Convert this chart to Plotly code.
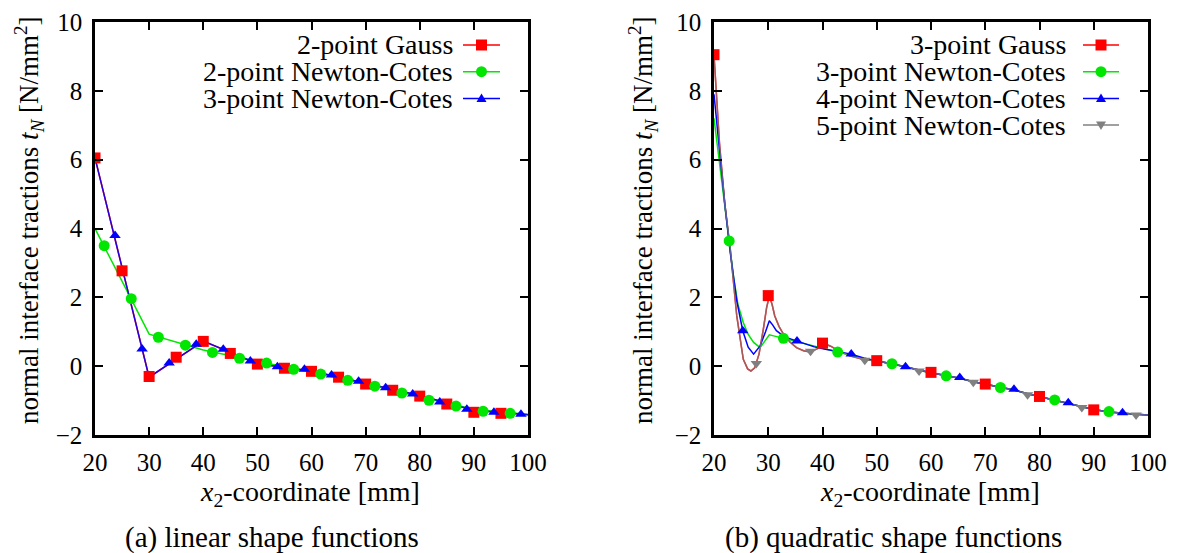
import plotly.graph_objects as go

W, H = 1180, 553

# ---------------- (a) linear shape functions ----------------
lin_node_x = [20, 30, 40, 50, 60, 70, 80, 90, 100]
lin_gauss2_ly = [6.05, -0.32, 0.73, 0.07, -0.14, -0.49, -0.85, -1.28, -1.41]
lin_nc2_ly = [4.0, 0.93, 0.47, 0.14, -0.18, -0.51, -0.89, -1.25, -1.40]
lin_nc3_ly = [6.05, -0.32, 0.73, 0.07, -0.14, -0.49, -0.85, -1.28, -1.41]

lin_gauss2_mx = [20, 25, 30, 35, 40, 45, 50, 55, 60, 65, 70, 75, 80, 85, 90, 95]
lin_gauss2_my = [6.05, 2.77, -0.30, 0.26, 0.72, 0.37, 0.06, -0.06, -0.15, -0.32,
                 -0.52, -0.70, -0.87, -1.10, -1.34, -1.37]
lin_nc2_mx = [21.7, 26.7, 31.7, 36.7, 41.7, 46.7, 51.7, 56.7, 61.7, 66.7, 71.7,
              76.7, 81.7, 86.7, 91.7, 96.7]
lin_nc2_my = [3.5, 1.96, 0.84, 0.61, 0.40, 0.23, 0.09, -0.09, -0.23, -0.41, -0.58,
              -0.78, -0.99, -1.16, -1.31, -1.37]
lin_nc3_mx = [23.7, 28.7, 33.7, 38.7, 43.7, 48.7, 53.7, 58.7, 63.7, 68.7, 73.7,
              78.7, 83.7, 88.7, 93.7, 98.7]
lin_nc3_my = [3.8, 0.5, 0.09, 0.64, 0.49, 0.15, -0.02, -0.09, -0.26, -0.44, -0.63,
              -0.81, -1.04, -1.25, -1.34, -1.40]

# ---------------- (b) quadratic shape functions ----------------
# all four curves coincide beyond x2 = 50
quad_tail_x = [50, 52.8, 55.3, 57.8, 60, 62.9, 65.3, 67.8, 70, 72.8, 75.3, 77.8,
               80, 82.8, 85.3, 87.8, 90, 92.8, 95.3, 97.8, 100]
quad_tail_y = [0.15, 0.07, -0.02, -0.13, -0.19, -0.28, -0.35, -0.45, -0.52, -0.62,
               -0.69, -0.80, -0.88, -0.98, -1.07, -1.17, -1.26, -1.33, -1.37, -1.40, -1.42]

quad_nc5_hx = [20, 21, 22, 23, 24.2, 25.4, 26.2, 26.8, 27.5, 28.3, 29.1, 29.7, 30.2,
               30.7, 31.2, 32, 32.8, 34, 35.2, 36.5, 37.7, 39, 40.3, 41.5, 42.6, 45, 47.6]
quad_nc5_hy = [9.05, 6.5, 4.7, 3.4, 1.46, 0.2, -0.08, -0.14, -0.05, 0.35, 1.08, 1.7,
               2.04, 1.8, 1.46, 1.15, 0.93, 0.7, 0.54, 0.45, 0.41, 0.50, 0.66, 0.58,
               0.48, 0.30, 0.19]
quad_nc4_hx = [20, 21, 22, 23, 24.2, 25.3, 26.3, 27.3, 28.5, 29.5, 30.2, 30.8, 31.5,
               33, 35.3, 38.5, 40.3, 42.6, 45.3, 47.6]
quad_nc4_hy = [7.9, 6.2, 4.7, 3.3, 1.9, 1.03, 0.55, 0.35, 0.59, 1.0, 1.32, 1.2, 1.03,
               0.85, 0.73, 0.56, 0.50, 0.43, 0.35, 0.24]
quad_nc3_hx = [20, 21, 22, 22.8, 23.6, 24.4, 25.4, 26.3, 27.3, 28.5, 29.3, 30.2, 31,
               32.8, 35, 37.5, 40, 42.8, 45, 47.6]
quad_nc3_hy = [7.2, 5.9, 4.6, 3.64, 2.6, 1.8, 1.27, 0.92, 0.69, 0.54, 0.7, 0.91, 0.88,
               0.81, 0.72, 0.62, 0.52, 0.41, 0.32, 0.22]

quad_gauss3_mx = [20, 30, 40, 50, 60, 70, 80, 90]
quad_gauss3_my = [9.05, 2.05, 0.67, 0.16, -0.18, -0.52, -0.88, -1.27]
quad_nc3_mx = [22.8, 32.8, 42.8, 52.8, 62.8, 72.8, 82.8, 92.8]
quad_nc3_my = [3.64, 0.81, 0.41, 0.07, -0.28, -0.62, -0.98, -1.32]
quad_nc4_mx = [25.3, 35.3, 45.3, 55.3, 65.3, 75.3, 85.3, 95.3]
quad_nc4_my = [1.03, 0.73, 0.35, -0.02, -0.33, -0.67, -1.06, -1.35]
quad_nc5_mx = [27.8, 37.8, 47.8, 57.8, 67.8, 77.8, 87.8, 97.8]
quad_nc5_my = [0.08, 0.43, 0.17, -0.14, -0.47, -0.83, -1.20, -1.42]

lin_labels = ["2-point Gauss", "2-point Newton-Cotes", "3-point Newton-Cotes"]
quad_labels = ["3-point Gauss", "3-point Newton-Cotes", "4-point Newton-Cotes",
               "5-point Newton-Cotes"]

RED, GREEN, BLUE, GREY = "#ff0000", "#00e600", "#0000ff", "#808080"
FONT = "'Liberation Serif', 'Times New Roman', 'DejaVu Serif', serif"


def px(x):
    return x / W


def py(y):
    return 1 - y / H


fig = go.Figure()


def line(x, y, color, ax, opacity=1.0):
    fig.add_trace(go.Scatter(x=x, y=y, mode="lines", line=dict(color=color, width=1.5),
                             opacity=opacity, xaxis=ax, yaxis="y", showlegend=False,
                             hoverinfo="skip"))


def marks(x, y, color, symbol, size, ax):
    fig.add_trace(go.Scatter(x=x, y=y, mode="markers",
                             marker=dict(color=color, symbol=symbol, size=size, line=dict(width=0)),
                             xaxis=ax, yaxis="y", showlegend=False))


# left panel
line(lin_node_x, lin_gauss2_ly, RED, "x")
line(lin_node_x, lin_nc2_ly, GREEN, "x")
line(lin_node_x, lin_nc3_ly, BLUE, "x", 0.85)
marks(lin_gauss2_mx, lin_gauss2_my, RED, "square", 11, "x")
marks(lin_nc2_mx, lin_nc2_my, GREEN, "circle", 11, "x")
marks(lin_nc3_mx, lin_nc3_my, BLUE, "triangle-up", 10, "x")

# right panel
line(quad_nc5_hx + quad_tail_x, quad_nc5_hy + quad_tail_y, RED, "x2")
line(quad_nc3_hx + quad_tail_x, quad_nc3_hy + quad_tail_y, GREEN, "x2")
line(quad_nc4_hx + quad_tail_x, quad_nc4_hy + quad_tail_y, BLUE, "x2")
line(quad_nc5_hx + quad_tail_x, quad_nc5_hy + quad_tail_y, GREY, "x2", 0.7)
marks(quad_gauss3_mx, quad_gauss3_my, RED, "square", 11, "x2")
marks(quad_nc3_mx, quad_nc3_my, GREEN, "circle", 11, "x2")
marks(quad_nc4_mx, quad_nc4_my, BLUE, "triangle-up", 10, "x2")
marks(quad_nc5_mx, quad_nc5_my, GREY, "triangle-down", 10, "x2")

axis_common = dict(
    showline=True, linecolor="black", linewidth=2.5, mirror="ticks",
    ticks="inside", ticklen=8, tickwidth=2, tickcolor="black",
    showgrid=False, zeroline=False, automargin=False,
    tickfont=dict(family=FONT, size=25, color="black"),
)

x_dom_a = [px(95), px(528)]
x_dom_b = [px(714), px(1148)]
y_dom = [py(435), py(22)]

fig.update_layout(
    width=W, height=H,
    margin=dict(l=0, r=0, t=0, b=0),
    paper_bgcolor="white", plot_bgcolor="white",
    showlegend=False,
    font=dict(family=FONT),
    xaxis=dict(domain=x_dom_a, range=[20, 100], dtick=10, anchor="y",
               ticklabelstandoff=3, **axis_common),
    xaxis2=dict(domain=x_dom_b, range=[20, 100], dtick=10, anchor="y2",
                ticklabelstandoff=3, **axis_common),
    yaxis=dict(domain=y_dom, range=[-2, 10], dtick=2, anchor="x",
               ticklabelstandoff=5, **axis_common),
    yaxis2=dict(domain=y_dom, range=[-2, 10], dtick=2, anchor="x2",
                ticklabelstandoff=5, **axis_common),
)
# right panel traces use the second y axis
for tr in fig.data:
    if tr.xaxis == "x2":
        tr.yaxis = "y2"

ytitle = "normal interface tractions <i>t</i><sub><i>N</i></sub> [N/mm<sup>2</sup>]"
xtitle = "<i>x</i><sub>2</sub>-coordinate [mm]"
tfont = dict(family=FONT, size=28, color="black")
yfont = dict(family=FONT, size=27, color="black")
cfont = dict(family=FONT, size=29, color="black")

ann = []
for cx_y, cx_x, cap_x, cap in [(29, 310, 272, "(a) linear shape functions"),
                                (643, 930, 893, "(b) quadratic shape functions")]:
    ann.append(dict(x=px(cx_y), y=py(221), xref="paper", yref="paper", text=ytitle,
                    textangle=-90, showarrow=False, font=yfont,
                    xanchor="center", yanchor="middle"))
    ann.append(dict(x=px(cx_x), y=py(493), xref="paper", yref="paper", text=xtitle,
                    showarrow=False, font=tfont, xanchor="center", yanchor="middle"))
    ann.append(dict(x=px(cap_x), y=py(537), xref="paper", yref="paper", text=cap,
                    showarrow=False, font=cfont, xanchor="center", yanchor="middle"))

# gnuplot-style key: text right-aligned, sample to its right
shapes = []


def key(labels, colors, symbols, text_right, x0, x1):
    xm = (x0 + x1) / 2
    for i, (lab, col, sym) in enumerate(zip(labels, colors, symbols)):
        yy = 45 + i * 26.7
        ann.append(dict(x=px(text_right), y=py(yy), xref="paper", yref="paper",
                        text=lab, showarrow=False, font=tfont,
                        xanchor="right", yanchor="middle"))
        shapes.append(dict(type="line", xref="paper", yref="paper",
                           x0=px(x0), x1=px(x1), y0=py(yy), y1=py(yy),
                           line=dict(color=col, width=1.5)))
        if sym == "square":
            shapes.append(dict(type="rect", xref="paper", yref="paper",
                               x0=px(xm - 5.5), x1=px(xm + 5.5), y0=py(yy - 5.5), y1=py(yy + 5.5),
                               fillcolor=col, line=dict(width=0)))
        elif sym == "circle":
            shapes.append(dict(type="circle", xref="paper", yref="paper",
                               x0=px(xm - 5.5), x1=px(xm + 5.5), y0=py(yy - 5.5), y1=py(yy + 5.5),
                               fillcolor=col, line=dict(width=0)))
        else:
            s = -1 if sym == "up" else 1
            path = "M {} {} L {} {} L {} {} Z".format(
                px(xm - 5), py(yy - s * 3.5), px(xm + 5), py(yy - s * 3.5), px(xm), py(yy + s * 5))
            shapes.append(dict(type="path", xref="paper", yref="paper", path=path,
                               fillcolor=col, line=dict(width=0)))


key(lin_labels, [RED, GREEN, BLUE], ["square", "circle", "up"], 455, 463, 500)
key(quad_labels, [RED, GREEN, BLUE, GREY], ["square", "circle", "up", "down"], 1068, 1083, 1119)

fig.update_layout(annotations=ann, shapes=shapes)

# the page body keeps its default 8px margin otherwise
fig.write_html("out.html", config={"displayModeBar": False},
               post_script="document.body.style.margin='0';")
